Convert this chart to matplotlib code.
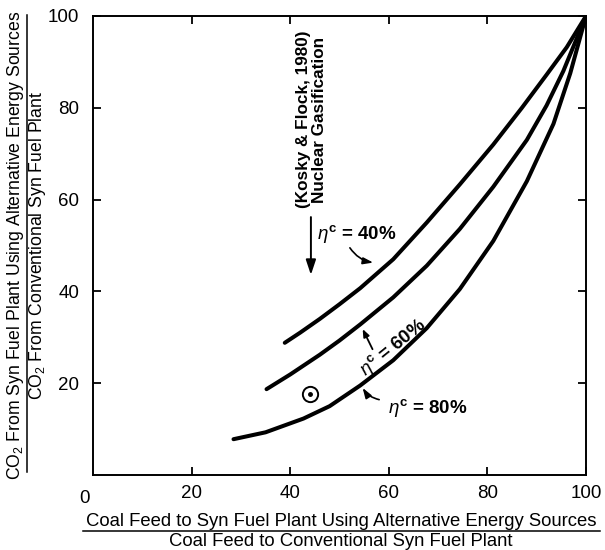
import matplotlib
matplotlib.use("Agg")
import matplotlib.pyplot as plt
from matplotlib.lines import Line2D

plt.rcParams['font.family'] = ['Liberation Sans', 'DejaVu Sans']
plt.rcParams['mathtext.fontset'] = 'custom'
plt.rcParams['mathtext.rm'] = 'Liberation Sans'
plt.rcParams['mathtext.it'] = 'Liberation Sans:italic'
plt.rcParams['mathtext.bf'] = 'Liberation Sans:bold'

# Coal-feed ratio (%) vs CO2 ratio (%) for three conversion efficiencies
x40 = [38.9, 42.0, 46.0, 50.0, 54.2, 60.9, 67.7, 74.4, 81.2, 87.0, 92.0, 96.1, 100.0]
y40 = [28.8, 31.0, 34.0, 37.2, 40.7, 47.0, 55.0, 63.3, 72.0, 80.0, 87.2, 93.2, 100.0]

x60 = [35.2, 40.0, 46.0, 50.0, 54.2, 60.9, 67.7, 74.4, 81.2, 88.0, 92.0, 95.4, 100.0]
y60 = [18.7, 21.9, 26.2, 29.3, 32.8, 38.7, 45.6, 53.6, 62.8, 73.0, 80.5, 88.0, 100.0]

x80 = [28.5, 35.0, 42.7, 48.0, 54.2, 60.9, 67.7, 74.4, 81.2, 88.0, 93.4, 96.8, 100.0]
y80 = [7.8, 9.3, 12.3, 15.0, 19.5, 25.0, 32.0, 40.5, 51.0, 64.0, 76.5, 87.5, 100.0]

# Kosky & Flock (1980) nuclear gasification point
nuc_x = [44.1]
nuc_y = [17.6]

tick_vals = [20, 40, 60, 80, 100]
tick_labels = ['20', '40', '60', '80', '100']

W, H = 605, 550
fig = plt.figure(figsize=(W / 100, H / 100), dpi=100)
ax = fig.add_axes([93 / W, 1 - 475 / H, (586 - 93) / W, (475 - 16) / H])
ax.set_xlim(0, 100)
ax.set_ylim(0, 100)

for s in ax.spines.values():
    s.set_linewidth(1.4)

lw = 2.9
for xs, ys in ((x40, y40), (x60, y60), (x80, y80)):
    ax.plot(xs, ys, color='black', lw=lw, solid_capstyle='round',
            solid_joinstyle='round')

ax.plot(nuc_x, nuc_y, marker='o', ms=11, mfc='none', mec='black', mew=1.4, ls='none')
ax.plot(nuc_x, nuc_y, marker='o', ms=2.5, color='black', ls='none')

ax.set_xticks(tick_vals)
ax.set_yticks(tick_vals)
ax.set_xticklabels(tick_labels)
ax.set_yticklabels(tick_labels)
ax.tick_params(axis='both', which='both', direction='in', length=6, width=1.3,
               top=True, right=True, labelsize=13.5)
ax.tick_params(axis='x', pad=7)
ax.tick_params(axis='y', pad=10)
ax.text(-1.7, -3.2, '0', fontsize=13.5, ha='center', va='top', clip_on=False)

# Source note and arrow
ax.text(44.3, 77.4, '(Kosky & Flock, 1980)\nNuclear Gasification', rotation=90,
        fontsize=12.3, fontweight='bold', ha='center', va='center',
        linespacing=1.05)
ax.annotate('', xy=(44.2, 43.0), xytext=(44.2, 56.8),
            arrowprops=dict(arrowstyle='-|>,head_length=0.9,head_width=0.3',
                            color='black', lw=1.4))

lab_kw = dict(fontsize=13.5, fontweight='bold', color='black')
eta = r'$\eta^{\mathbf{c}}$'
ax.text(45.5, 52.6, eta + ' = 40%', ha='left', va='center', **lab_kw)
ax.annotate('', xy=(57.4, 46.2), xytext=(51.8, 50.0),
            arrowprops=dict(arrowstyle='-|>,head_length=0.6,head_width=0.2',
                            color='black', lw=1.2,
                            connectionstyle='arc3,rad=0.25'))

ax.text(60.8, 27.8, eta + ' = 60%', ha='center', va='center',
        rotation=39, **lab_kw)
ax.annotate('', xy=(54.7, 31.8), xytext=(56.7, 27.4),
            arrowprops=dict(arrowstyle='-|>,head_length=0.45,head_width=0.18',
                            color='black', lw=1.3, shrinkA=0, shrinkB=0))

ax.text(59.8, 14.7, eta + ' = 80%', ha='left', va='center', **lab_kw)
ax.annotate('', xy=(54.4, 19.5), xytext=(58.6, 16.3),
            arrowprops=dict(arrowstyle='-|>,head_length=0.6,head_width=0.2',
                            color='black', lw=1.2,
                            connectionstyle='arc3,rad=-0.25'))

# Fraction-style axis titles
xl_kw = dict(fontsize=13.3, ha='center', va='center')
fig.text(341 / W, 1 - 521 / H,
         'Coal Feed to Syn Fuel Plant Using Alternative Energy Sources', **xl_kw)
fig.text(341 / W, 1 - 541 / H, 'Coal Feed to Conventional Syn Fuel Plant', **xl_kw)
fig.add_artist(Line2D([83 / W, 600 / W], [1 - 531 / H, 1 - 531 / H],
                      transform=fig.transFigure, color='black', lw=1.1))

yl_kw = dict(fontsize=12.7, ha='center', va='center', rotation=90)
fig.text(16 / W, 1 - 245 / H,
         r'CO$_2$ From Syn Fuel Plant Using Alternative Energy Sources', **yl_kw)
fig.text(38 / W, 1 - 245 / H, r'CO$_2$ From Conventional Syn Fuel Plant', **yl_kw)
fig.add_artist(Line2D([26.5 / W, 26.5 / W], [1 - 15 / H, 1 - 472 / H],
                      transform=fig.transFigure, color='black', lw=1.1))

fig.savefig('out.png', dpi=100, facecolor='white')
